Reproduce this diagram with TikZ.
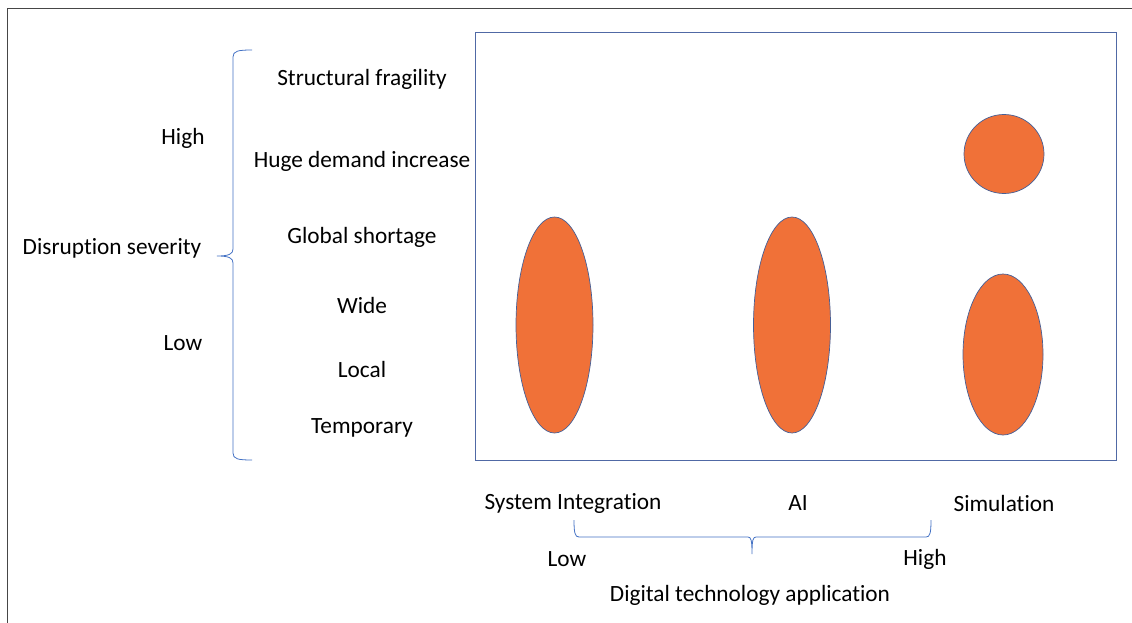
\documentclass[tikz,border=0pt]{standalone}
\usepackage{fontspec}
\setmainfont{Carlito}[RawFeature=-liga]
\usetikzlibrary{shapes.geometric}
\definecolor{blobfill}{RGB}{240,113,56}
\definecolor{blobline}{RGB}{70,95,150}
\definecolor{bracecol}{RGB}{68,114,196}
\definecolor{plotcol}{RGB}{80,105,165}
\definecolor{framecol}{RGB}{70,70,70}
\tikzset{
  lbl/.style={font=\fontsize{23.3}{27}\selectfont, text=black, inner sep=0pt, anchor=center},
  blob/.style={ellipse, draw=blobline, line width=0.7pt, fill=blobfill, inner sep=0pt},
  brace/.style={draw=bracecol, line width=0.8pt},
}
\begin{document}
\begin{tikzpicture}[x=1pt,y=-1pt]
\useasboundingbox (0,0) rectangle (1132,623);
% outer frame (top and left only)
\draw[framecol, line width=1pt] (7,623) -- (7,9) -- (1132,9);
% plot area
\node[draw=plotcol, line width=0.9pt, minimum width=641pt, minimum height=428pt, inner sep=0pt] (plot) at (795.5,246) {};
% left brace
\coordinate (lbT) at (252,50);
\coordinate (lbB) at (252,460);
\coordinate (lbTip) at (217,256);
\draw[brace] (lbT) .. controls (238,50) and (233,51) .. (233,57) -- (233,249)
  .. controls (233,254) and (229,256) .. (lbTip)
  .. controls (229,256) and (233,258) .. (233,263) -- (233,453)
  .. controls (233,459) and (238,460) .. (lbB);
% bottom brace
\coordinate (bbL) at (574,520);
\coordinate (bbR) at (931,520);
\coordinate (bbTip) at (752,554);
\draw[brace] (bbL) .. controls (574,533) and (575,537) .. (579,537) -- (748,537)
  .. controls (751,537) and (752,540) .. (bbTip)
  .. controls (752,540) and (753,537) .. (756,537) -- (926,537)
  .. controls (930,537) and (931,533) .. (bbR);
% left labels
\node[lbl] (sf) at (362,79) {Structural fragility};
\node[lbl] (hd) at (362,161) {Huge demand increase};
\node[lbl] (gs) at (362,237) {Global shortage};
\node[lbl] (wd) at (362,305) {Wide};
\node[lbl] (lc) at (362,369) {Local};
\node[lbl] (tp) at (362,428) {Temporary};
\node[lbl] (hi) at (183,138) {High};
\node[lbl] (lo) at (183,343) {Low};
\node[lbl] (ds) at (112,248) {Disruption severity};
% bottom labels
\node[lbl] (si) at (573,503) {System Integration};
\node[lbl] (ai) at (798,503) {AI};
\node[lbl] (sim) at (1004,503) {Simulation};
\node[lbl] (blo) at (567,559) {Low};
\node[lbl] (bhi) at (925,559) {High};
\node[lbl] (dta) at (750,595) {Digital technology application};
% blobs
\node[blob, minimum width=77pt, minimum height=216pt] (e1) at (554.5,325) {};
\node[blob, minimum width=77pt, minimum height=216pt] (e2) at (792,325) {};
\node[blob, minimum width=80pt, minimum height=79pt] (c3) at (1004,154) {};
\node[blob, minimum width=80pt, minimum height=161pt] (e3) at (1003,354.5) {};
\end{tikzpicture}
\end{document}
